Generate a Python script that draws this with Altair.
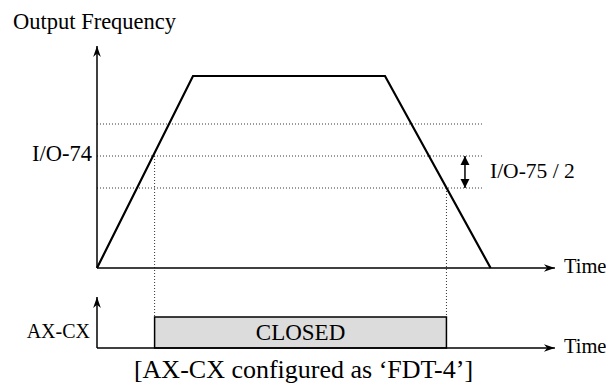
import altair as alt
import pandas as pd

# ---- data ----
ramp_time = [0, 10, 30, 41.0]          # time points of the output-frequency trapezoid
ramp_freq = [0, 60, 60, 0]             # output frequency at those points
io74 = 35                              # I/O-74 detection frequency
io75_half = 10                         # I/O-75 / 2 band
band_levels = [io74 + io75_half, io74, io74 - io75_half]
switch_times = [6.0, 36.4]             # AX-CX closes / opens
switch_levels = [io74, io74 - io75_half]
time_end = 47.7                        # end of time axes
freq_top = 69.4                        # top of frequency axis
dotted_end = 40.1
band_arrow_t = 38.33
lower_base = -25                       # baseline of AX-CX panel
lower_top = -15.3                      # top of CLOSED bar
lower_axis_top = -9.06

FONT = "Liberation Serif"
xs = alt.Scale(domain=[-9.2708, 53.0208], nice=False, zero=False)
ys = alt.Scale(domain=[-36.25, 81.25], nice=False, zero=False)


def X(f):
    return alt.X(f, type="quantitative", scale=xs, axis=None)


def Y(f):
    return alt.Y(f, type="quantitative", scale=ys, axis=None)


# dotted horizontal levels
hdf = pd.DataFrame({"x": [0] * 3, "x2": [dotted_end] * 3, "y": band_levels})
hdots = alt.Chart(hdf).mark_rule(color="#333", strokeWidth=1, strokeDash=[1, 2]).encode(
    x=X("x"), x2="x2", y=Y("y"))

# dotted vertical drops
vdf = pd.DataFrame({"x": switch_times, "y": switch_levels, "y2": [lower_top] * 2})
vdots = alt.Chart(vdf).mark_rule(color="#333", strokeWidth=1, strokeDash=[1, 2]).encode(
    x=X("x"), y=Y("y"), y2="y2")

# CLOSED bar
rdf = pd.DataFrame({"x": [switch_times[0]], "x2": [switch_times[1]],
                    "y": [lower_base], "y2": [lower_top]})
rect = alt.Chart(rdf).mark_rect(fill="#dcdcdc", stroke="black", strokeWidth=1.5).encode(
    x=X("x"), x2="x2", y=Y("y"), y2="y2")

# axes
adf = pd.DataFrame({
    "x": [0, 0, 0, 0],
    "x2": [time_end, 0, time_end, 0],
    "y": [0, 0, lower_base, lower_base],
    "y2": [0, freq_top, lower_base, lower_axis_top],
})
axes = alt.Chart(adf).mark_rule(color="black", strokeWidth=1.5).encode(
    x=X("x"), x2="x2", y=Y("y"), y2="y2")

right_head = "M0,0 L-2,-0.7 L-1.4,0 L-2,0.7 Z"
up_head = "M0,0 L-0.7,2 L0,1.4 L0.7,2 Z"
rhdf = pd.DataFrame({"x": [time_end, time_end], "y": [0, lower_base]})
rheads = alt.Chart(rhdf).mark_point(shape=right_head, filled=True, color="black",
                                    size=121, opacity=1).encode(x=X("x"), y=Y("y"))
uhdf = pd.DataFrame({"x": [0, 0], "y": [freq_top, lower_axis_top]})
uheads = alt.Chart(uhdf).mark_point(shape=up_head, filled=True, color="black",
                                    size=121, opacity=1).encode(x=X("x"), y=Y("y"))

# trapezoid
tdf = pd.DataFrame({"t": ramp_time, "f": ramp_freq, "o": range(len(ramp_time))})
trap = alt.Chart(tdf).mark_line(color="black", strokeWidth=2.2).encode(
    x=X("t"), y=Y("f"), order="o")

# double arrow for I/O-75 / 2
ddf = pd.DataFrame({"x": [band_arrow_t], "y": [band_levels[2]], "y2": [band_levels[1]]})
dline = alt.Chart(ddf).mark_rule(color="black", strokeWidth=1.5).encode(
    x=X("x"), y=Y("y"), y2="y2")
tri_up = "M0,0 L-0.85,1.7 L0.85,1.7 Z"
tri_dn = "M0,0 L-0.85,-1.7 L0.85,-1.7 Z"
dup = alt.Chart(pd.DataFrame({"x": [band_arrow_t], "y": [band_levels[1]]})).mark_point(
    shape=tri_up, filled=True, color="black", size=110, opacity=1).encode(x=X("x"), y=Y("y"))
ddn = alt.Chart(pd.DataFrame({"x": [band_arrow_t], "y": [band_levels[2]]})).mark_point(
    shape=tri_dn, filled=True, color="black", size=110, opacity=1).encode(x=X("x"), y=Y("y"))

# texts
time_lbl = alt.Chart(pd.DataFrame({"x": [time_end] * 2, "y": [0, lower_base], "s": ["Time"] * 2})).mark_text(
    font=FONT, fontSize=20.5, align="left", baseline="alphabetic", dx=9, dy=5, color="black").encode(
    x=X("x"), y=Y("y"), text="s")
io74_lbl = alt.Chart(pd.DataFrame({"x": [0], "y": [io74], "s": ["I/O-74"]})).mark_text(
    font=FONT, fontSize=22.5, align="right", baseline="alphabetic", dx=-5, dy=4.5, color="black").encode(
    x=X("x"), y=Y("y"), text="s")
io75_lbl = alt.Chart(pd.DataFrame({"x": [band_arrow_t], "y": [io74 - io75_half / 2], "s": ["I/O-75 / 2"]})).mark_text(
    font=FONT, fontSize=21.5, align="left", baseline="alphabetic", dx=25, dy=6, color="black").encode(
    x=X("x"), y=Y("y"), text="s")
ax_lbl = alt.Chart(pd.DataFrame({"x": [0], "y": [lower_base], "s": ["AX-CX"]})).mark_text(
    font=FONT, fontSize=20, align="right", baseline="alphabetic", dx=-7, dy=-10, color="black").encode(
    x=X("x"), y=Y("y"), text="s")
closed_lbl = alt.Chart(pd.DataFrame({"x": [sum(switch_times) / 2], "y": [lower_base], "s": ["CLOSED"]})).mark_text(
    font=FONT, fontSize=23, align="center", baseline="alphabetic", dy=-8, color="black").encode(
    x=X("x"), y=Y("y"), text="s")
title_lbl = alt.Chart(pd.DataFrame({"s": ["Output Frequency"]})).mark_text(
    font=FONT, fontSize=22.5, align="left", baseline="alphabetic", color="black").encode(
    x=alt.value(5), y=alt.value(21), text="s")
caption_lbl = alt.Chart(pd.DataFrame({"s": ["[AX-CX configured as \u2018FDT-4\u2019]"]})).mark_text(
    font=FONT, fontSize=26, align="center", baseline="alphabetic", color="black").encode(
    x=alt.value(295.5), y=alt.value(370), text="s")

chart = alt.layer(
    hdots, vdots, rect, axes, rheads, uheads, trap, dline, dup, ddn,
    time_lbl, io74_lbl, io75_lbl, ax_lbl, closed_lbl, title_lbl, caption_lbl,
).properties(
    width=598, height=376, padding=0,
    autosize=alt.AutoSizeParams(type="none"),
    background="white",
).configure_view(stroke=None)

chart.save("out.html", embed_options={"renderer": "svg", "actions": False})
